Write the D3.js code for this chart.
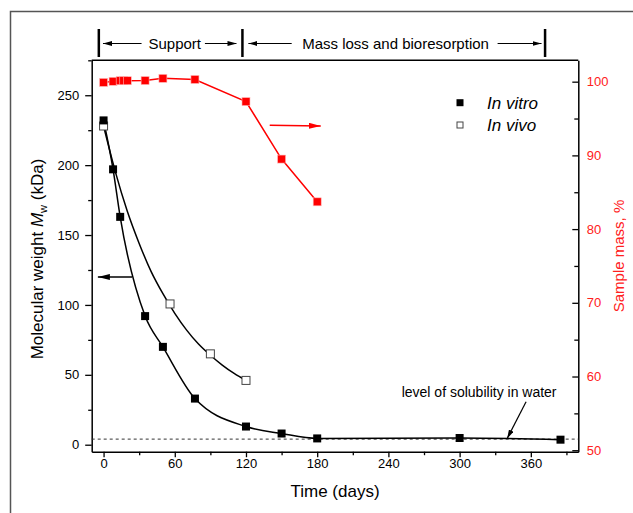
<!DOCTYPE html>
<html>
<head>
<meta charset="utf-8">
<script src="https://cdn.jsdelivr.net/npm/d3@7"></script>
<style>
  body { margin: 0; background: #fff; }
  text { font-family: Arial, "Liberation Sans", sans-serif; }
</style>
</head>
<body>
<script>
// molecular weight, in vitro (filled squares)
const vitroDays = [0, 8, 14, 35, 50, 77, 120, 150, 180, 300, 385];
const vitroMw = [232, 197, 163, 92, 70, 33, 13, 8, 4.5, 4.8, 3.6];

// molecular weight, in vivo (open squares)
const vivoDays = [0, 56, 90, 120];
const vivoMw = [228, 100.7, 65, 46];

// in vivo fitted curve
const vivoFitDays = [0, 10, 20, 30, 40, 50, 60, 70, 80, 90, 100, 110, 120];
const vivoFitMw = [228, 195, 167, 144, 124, 108, 94, 82, 72, 64, 57, 51, 46];

// sample mass (red, right axis)
const massDays = [0, 8, 14, 17, 20, 35, 50, 77, 120, 150, 180];
const massPct = [99.9, 100.05, 100.13, 100.13, 100.13, 100.15, 100.45, 100.3, 97.3, 89.5, 83.7];

const solubility = 4;

const xTicks = [0, 60, 120, 180, 240, 300, 360];
const yTicks = [0, 50, 100, 150, 200, 250];
const rTicks = [50, 60, 70, 80, 90, 100];

const m = { left: 91.7, right: 578.3, top: 60.3, bottom: 451.7 };

let svg = d3.select("body")
  .append("svg")
  .attr("width", 633)
  .attr("height", 513);

let defs = svg.append("defs");
function head(id, color, w, h) {
  defs.append("marker")
    .attr("id", id)
    .attr("viewBox", `0 0 ${w} ${h}`)
    .attr("refX", w).attr("refY", h / 2)
    .attr("markerWidth", w).attr("markerHeight", h)
    .attr("markerUnits", "userSpaceOnUse")
    .attr("orient", "auto")
    .append("path")
    .attr("d", `M0,0L${w},${h / 2}L0,${h}Z`)
    .attr("fill", color);
}
head("hsmall", "#000", 9, 5);
head("hbig", "#000", 12, 6);
head("hred", "red", 12, 6);

// outer frame
svg.append("rect")
  .attr("x", 10.5).attr("y", 11.5)
  .attr("width", 700).attr("height", 600)
  .attr("fill", "none").attr("stroke", "#555").attr("stroke-width", 1.5);

let x = d3.scaleLinear().domain([-10, 400]).range([m.left, m.right]);
let y = d3.scaleLinear().domain([-5, 275]).range([m.bottom, m.top]);
let yr = d3.scaleLinear().domain([49.8, 102.9]).range([m.bottom, m.top]);

// top border of the plot
svg.append("line")
  .attr("x1", m.left).attr("x2", m.right)
  .attr("y1", m.top).attr("y2", m.top)
  .attr("stroke", "#000").attr("stroke-width", 1.5);

// axes
function styleAxis(g, color) {
  g.select(".domain").attr("stroke", "#000").attr("stroke-width", 1.5);
  g.selectAll(".tick line").attr("stroke", "#000").attr("stroke-width", 1.3);
  g.selectAll("text").attr("font-size", 13).attr("fill", color)
    .attr("font-family", "Arial, 'Liberation Sans', sans-serif");
}

let gx = svg.append("g").attr("transform", `translate(0,${m.bottom})`)
  .call(d3.axisBottom(x).tickValues(xTicks).tickSize(5.5).tickPadding(2).tickSizeOuter(0));
styleAxis(gx, "#000");
svg.append("g").attr("transform", `translate(0,${m.bottom})`)
  .call(d3.axisBottom(x).tickValues(d3.range(30, 400, 60)).tickSize(3.5).tickFormat("").tickSizeOuter(0))
  .call(g => { g.select(".domain").remove(); g.selectAll("line").attr("stroke", "#000").attr("stroke-width", 1.3); });

let gy = svg.append("g").attr("transform", `translate(${m.left},0)`)
  .call(d3.axisLeft(y).tickValues(yTicks).tickSize(6.5).tickPadding(6).tickSizeOuter(0));
styleAxis(gy, "#000");
svg.append("g").attr("transform", `translate(${m.left},0)`)
  .call(d3.axisLeft(y).tickValues(d3.range(25, 276, 50)).tickSize(3.5).tickFormat("").tickSizeOuter(0))
  .call(g => { g.select(".domain").remove(); g.selectAll("line").attr("stroke", "#000").attr("stroke-width", 1.3); });

let gr = svg.append("g").attr("transform", `translate(${m.right},0)`)
  .call(d3.axisRight(yr).tickValues(rTicks).tickSize(-6).tickPadding(8.5).tickSizeOuter(0));
styleAxis(gr, "#ff2020");
svg.append("g").attr("transform", `translate(${m.right},0)`)
  .call(d3.axisRight(yr).tickValues(d3.range(55, 100, 10)).tickSize(-4).tickFormat("").tickSizeOuter(0))
  .call(g => { g.select(".domain").remove(); g.selectAll("line").attr("stroke", "#000").attr("stroke-width", 1.3); });

// axis titles
svg.append("text")
  .attr("x", (m.left + m.right) / 2).attr("y", 497)
  .attr("text-anchor", "middle").attr("font-size", 17)
  .text("Time (days)");

let yt = svg.append("text")
  .attr("transform", "translate(43,259) rotate(-90)")
  .attr("text-anchor", "middle").attr("font-size", 17);
yt.append("tspan").text("Molecular weight ");
yt.append("tspan").attr("font-style", "italic").text("M");
yt.append("tspan").attr("font-size", 11).attr("dy", 4).text("w");
yt.append("tspan").attr("dy", -4).text(" (kDa)");

svg.append("text")
  .attr("transform", "translate(624,256) rotate(-90)")
  .attr("text-anchor", "middle").attr("font-size", 15)
  .attr("fill", "#ff2020")
  .text("Sample mass, %");

// solubility level
svg.append("line")
  .attr("x1", m.left).attr("x2", m.right)
  .attr("y1", y(solubility)).attr("y2", y(solubility))
  .attr("stroke", "#333").attr("stroke-width", 1)
  .attr("stroke-dasharray", "3,3");

// fitted curves
let vitroLine = d3.line().x(d => x(d[0])).y(d => y(d[1])).curve(d3.curveMonotoneX);
svg.append("path")
  .attr("d", vitroLine(d3.zip(vitroDays, vitroMw)))
  .attr("fill", "none").attr("stroke", "#000").attr("stroke-width", 1.5);
svg.append("path")
  .attr("d", vitroLine(d3.zip(vivoFitDays, vivoFitMw)))
  .attr("fill", "none").attr("stroke", "#000").attr("stroke-width", 1.5);

// in vivo points
svg.append("g").selectAll("rect")
  .data(d3.zip(vivoDays, vivoMw))
  .enter().append("rect")
  .attr("x", d => x(d[0]) - 4).attr("y", d => y(d[1]) - 4)
  .attr("width", 8).attr("height", 8)
  .attr("fill", "#fff").attr("stroke", "#444").attr("stroke-width", 1);

// in vitro points
svg.append("g").selectAll("rect")
  .data(d3.zip(vitroDays, vitroMw))
  .enter().append("rect")
  .attr("x", d => x(d[0]) - 4).attr("y", d => y(d[1]) - 4)
  .attr("width", 8).attr("height", 8)
  .attr("fill", "#000");

// sample mass
let massLine = d3.line().x(d => x(d[0])).y(d => yr(d[1]));
svg.append("path")
  .attr("d", massLine(d3.zip(massDays, massPct)))
  .attr("fill", "none").attr("stroke", "red").attr("stroke-width", 1.5);
svg.append("g").selectAll("rect")
  .data(d3.zip(massDays, massPct))
  .enter().append("rect")
  .attr("x", d => x(d[0]) - 4).attr("y", d => yr(d[1]) - 4)
  .attr("width", 8).attr("height", 8)
  .attr("fill", "red").attr("stroke", "#ffb8b8").attr("stroke-width", 0.6);

// axis pointer arrows
svg.append("line")
  .attr("x1", x(24)).attr("x2", x(-4.8))
  .attr("y1", y(120)).attr("y2", y(120))
  .attr("stroke", "#000").attr("stroke-width", 1.5)
  .attr("marker-end", "url(#hbig)");
svg.append("line")
  .attr("x1", x(140)).attr("x2", x(183))
  .attr("y1", yr(94.1)).attr("y2", yr(94.0))
  .attr("stroke", "red").attr("stroke-width", 1.5)
  .attr("marker-end", "url(#hred)");

// solubility note
svg.append("text")
  .attr("x", 401.7).attr("y", 396.5)
  .attr("font-size", 14)
  .text("level of solubility in water");
svg.append("line")
  .attr("x1", x(356)).attr("y1", y(30.8))
  .attr("x2", x(340)).attr("y2", y(4.3))
  .attr("stroke", "#000").attr("stroke-width", 1.2)
  .attr("marker-end", "url(#hsmall)");

// stage annotation above the plot
const stageBars = [-4, 117, 372];
svg.append("g").selectAll("line")
  .data(stageBars)
  .enter().append("line")
  .attr("x1", d => x(d)).attr("x2", d => x(d))
  .attr("y1", 29).attr("y2", 57)
  .attr("stroke", "#000").attr("stroke-width", 2.5);

const stageArrows = [[32, -0.5], [85.4, 112], [158.5, 122], [332, 369]];
svg.append("g").selectAll("line")
  .data(stageArrows)
  .enter().append("line")
  .attr("x1", d => x(d[0])).attr("x2", d => x(d[1]))
  .attr("y1", 43.5).attr("y2", 43.5)
  .attr("stroke", "#000").attr("stroke-width", 1.2)
  .attr("marker-end", "url(#hsmall)");

svg.append("text")
  .attr("x", x(60)).attr("y", 48.5)
  .attr("text-anchor", "middle").attr("font-size", 15)
  .text("Support");
svg.append("text")
  .attr("x", x(246)).attr("y", 48.5)
  .attr("text-anchor", "middle").attr("font-size", 15)
  .text("Mass loss and bioresorption");

// legend
let legend = svg.append("g");
legend.append("rect")
  .attr("x", 456.5).attr("y", 99.2).attr("width", 7).attr("height", 7)
  .attr("fill", "#000");
legend.append("rect")
  .attr("x", 457).attr("y", 122).attr("width", 6).attr("height", 6)
  .attr("fill", "#fff").attr("stroke", "#444").attr("stroke-width", 1);
legend.append("text")
  .attr("x", 487).attr("y", 108.7)
  .attr("font-size", 17).attr("font-style", "italic")
  .text("In vitro");
legend.append("text")
  .attr("x", 487).attr("y", 131)
  .attr("font-size", 17).attr("font-style", "italic")
  .text("In vivo");
</script>
</body>
</html>
